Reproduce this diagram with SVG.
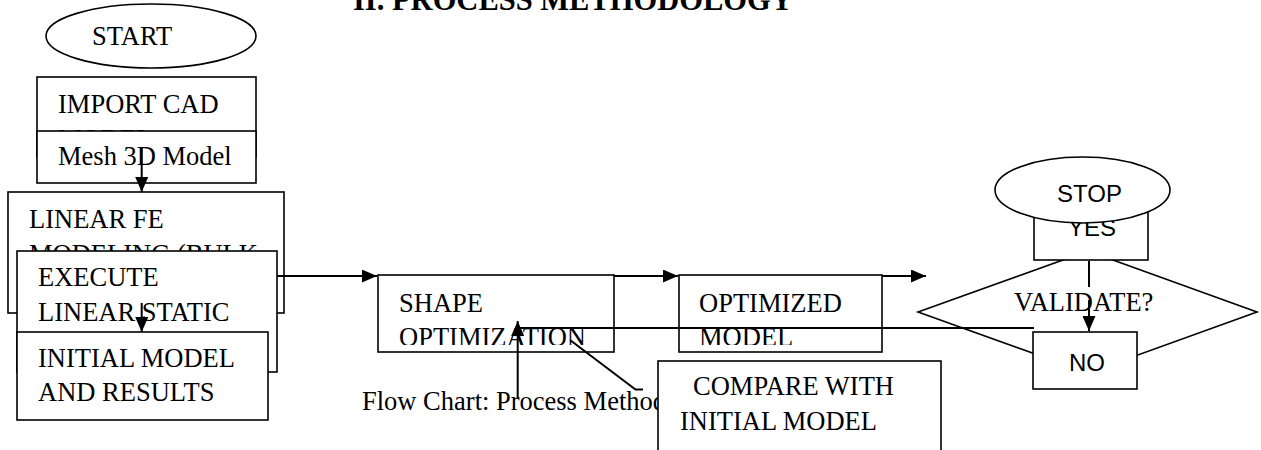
<svg xmlns="http://www.w3.org/2000/svg" width="1261" height="450" viewBox="0 0 1261 450">
<style>
.box{fill:#fff;stroke:#000;stroke-width:1.6}
.t{font-family:"Liberation Serif","Times New Roman",serif;font-size:26.5px;fill:#000}
.s{font-family:"Liberation Sans",Arial,sans-serif;font-size:24px;fill:#000}
.ttl{font-family:"Liberation Serif","Times New Roman",serif;font-size:30.5px;font-weight:bold;fill:#000}
.c{fill:none;stroke:#000;stroke-width:2}
</style>
<defs>
<marker id="ah" markerUnits="userSpaceOnUse" markerWidth="15" markerHeight="13" refX="15" refY="6.5" orient="auto">
<path d="M0,0 L15,6.5 L0,13 z" fill="#000"/>
</marker>
<clipPath id="clipShape"><rect x="378" y="275" width="236" height="70"/></clipPath>
<clipPath id="clipOpt"><rect x="679" y="275" width="203" height="70"/></clipPath>
</defs>
<rect width="1261" height="450" fill="#fff"/>
<text class="ttl" x="353" y="10">II. PROCESS METHODOLOGY</text>

<g id="start">
<ellipse class="box" cx="151" cy="36" rx="105" ry="32"/>
<text class="t" x="92" y="45">START</text>
</g>
<g id="import-cad">
<rect class="box" x="37" y="77" width="219" height="80"/>
<text class="t" x="58" y="113">IMPORT CAD</text>
<text class="t" x="58" y="148">MODEL</text>
</g>
<g id="mesh">
<rect class="box" x="37" y="131" width="219" height="52"/>
<text class="t" x="58" y="165">Mesh 3D Model</text>
</g>
<g id="linear-fe">
<rect class="box" x="8" y="192" width="276" height="121"/>
<text class="t" x="29" y="228">LINEAR FE</text>
<text class="t" x="29" y="263">MODELING (BULK</text>
</g>
<g id="execute">
<rect class="box" x="17" y="251" width="260" height="121"/>
<text class="t" x="38" y="286">EXECUTE</text>
<text class="t" x="38" y="321">LINEAR STATIC</text>
</g>
<g id="initial">
<rect class="box" x="17" y="332" width="251" height="88"/>
<text class="t" x="38" y="367">INITIAL MODEL</text>
<text class="t" x="38" y="401">AND RESULTS</text>
</g>
<g id="shape-opt">
<rect class="box" x="378" y="275" width="236" height="77"/>
<g clip-path="url(#clipShape)">
<text class="t" x="399" y="312">SHAPE</text>
<text class="t" x="399" y="346">OPTIMIZATION</text>
</g>
</g>
<g id="optimized">
<rect class="box" x="679" y="275" width="203" height="77"/>
<g clip-path="url(#clipOpt)">
<text class="t" x="699" y="312">OPTIMIZED</text>
<text class="t" x="699" y="346">MODEL</text>
</g>
</g>
<g id="caption">
<text class="t" x="362" y="410">Flow Chart: Process Methodology</text>
</g>
<g id="compare">
<rect class="box" x="658" y="361" width="283" height="100"/>
<text class="t" x="693" y="395">COMPARE WITH</text>
<text class="t" x="680" y="430">INITIAL MODEL</text>
</g>
<g id="validate">
<polygon class="box" points="1088,251 1257,312 1088,373 918,312"/>
<text class="t" x="1014" y="311">VALIDATE?</text>
</g>
<g id="yes">
<rect class="box" x="1034" y="195" width="114" height="65"/>
<text class="s" x="1068" y="236">YES</text>
</g>
<g id="stop">
<ellipse class="box" cx="1082.5" cy="190" rx="87.5" ry="33"/>
<text class="s" x="1057" y="202">STOP</text>
</g>
<g id="no">
<rect class="box" x="1033" y="332" width="104" height="57"/>
<text class="s" x="1069" y="371">NO</text>
</g>

<g id="connectors">
<line class="c" x1="141.7" y1="148" x2="141.7" y2="192" marker-end="url(#ah)"/>
<line class="c" x1="141.7" y1="303" x2="141.7" y2="332" marker-end="url(#ah)"/>
<line class="c" x1="277" y1="276" x2="377" y2="276" marker-end="url(#ah)"/>
<line class="c" x1="614" y1="276" x2="678" y2="276" marker-end="url(#ah)"/>
<line class="c" x1="882" y1="276" x2="926" y2="276" marker-end="url(#ah)"/>
<line class="c" x1="1089" y1="261" x2="1089" y2="287"/>
<line class="c" x1="1089" y1="300" x2="1089" y2="331" marker-end="url(#ah)"/>
<line class="c" x1="1034" y1="328" x2="518" y2="328"/>
<line class="c" x1="517.7" y1="398" x2="517.7" y2="321" marker-end="url(#ah)"/>
<polyline class="c" points="570,340 635.5,389.5 643,389.5" stroke-width="1.6"/>
</g>
</svg>
